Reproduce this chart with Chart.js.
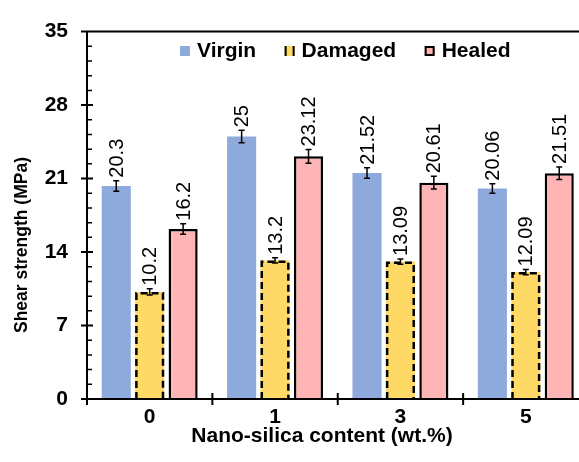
<!DOCTYPE html>
<html>
<head>
<meta charset="utf-8">
<script src="https://cdn.jsdelivr.net/npm/chart.js@4.4.1/dist/chart.umd.min.js"></script>
<style>
    html, body { margin: 0; padding: 0; background: #fff; overflow: hidden; }
    #wrap { width: 592px; height: 462px; }
</style>
</head>
<body>
<div id="wrap"><canvas id="shearChart"></canvas></div>
<script>
// data
const categories = ['0', '1', '3', '5'];
const virgin = [20.3, 25, 21.52, 20.06];
const damaged = [10.2, 13.2, 13.09, 12.09];
const healed = [16.2, 23.12, 20.61, 21.51];
const virginErr = [0.5, 0.6, 0.5, 0.45];
const damagedErr = [0.3, 0.25, 0.25, 0.25];
const healedErr = [0.5, 0.65, 0.6, 0.6];
const yMax = 35;
const yStep = 7;

const FONT = 'Liberation Sans, Arial, sans-serif';

/**
 * dashed outline on damaged bars, error bars, rotated value labels
 */
const barExtras = {
    id: 'barExtras',
    afterDatasetsDraw(chart) {
        const ctx = chart.ctx;
        const y = chart.scales.y;
        ctx.save();
        chart.data.datasets.forEach((ds, i) => {
            const meta = chart.getDatasetMeta(i);
            meta.data.forEach((bar, j) => {
                const half = bar.width / 2;
                // dashed border
                if (ds.dashed) {
                    const lw = 2.5;
                    ctx.setLineDash([7, 4]);
                    ctx.lineWidth = lw;
                    ctx.strokeStyle = '#000';
                    ctx.beginPath();
                    ctx.moveTo(bar.x - half + lw / 2, bar.base);
                    ctx.lineTo(bar.x - half + lw / 2, bar.y + lw / 2);
                    ctx.lineTo(bar.x + half - lw / 2, bar.y + lw / 2);
                    ctx.lineTo(bar.x + half - lw / 2, bar.base);
                    ctx.stroke();
                    ctx.setLineDash([]);
                }
                // error bar
                const v = ds.data[j];
                const e = ds.errors[j];
                const top = y.getPixelForValue(v + e);
                const bot = y.getPixelForValue(v - e);
                ctx.strokeStyle = '#000';
                ctx.lineWidth = 1.5;
                ctx.beginPath();
                ctx.moveTo(bar.x, top); ctx.lineTo(bar.x, bot);
                ctx.moveTo(bar.x - 3, top); ctx.lineTo(bar.x + 3, top);
                ctx.moveTo(bar.x - 3, bot); ctx.lineTo(bar.x + 3, bot);
                ctx.stroke();
                // value label
                ctx.save();
                ctx.translate(bar.x + 1, top - 3);
                ctx.rotate(-Math.PI / 2);
                ctx.fillStyle = '#000';
                ctx.font = '20px ' + FONT;
                ctx.textAlign = 'left';
                ctx.textBaseline = 'middle';
                ctx.fillText(String(v), 0, 0);
                ctx.restore();
            });
        });
        ctx.restore();
    }
};

/**
 * axes lines, ticks, titles and the legend inside the plot
 */
const frame = {
    id: 'frame',
    afterDraw(chart) {
        const ctx = chart.ctx;
        const a = chart.chartArea;
        const y = chart.scales.y;
        ctx.save();
        ctx.strokeStyle = '#000';
        ctx.lineWidth = 2;
        ctx.beginPath();
        // axes + top border
        ctx.moveTo(a.left, a.top); ctx.lineTo(a.left, a.bottom);
        ctx.moveTo(a.left - 6, a.bottom); ctx.lineTo(chart.width, a.bottom);
        ctx.moveTo(a.left, a.top); ctx.lineTo(chart.width, a.top);
        // major y ticks
        for (let v = 0; v <= yMax; v += yStep) {
            const py = y.getPixelForValue(v);
            ctx.moveTo(a.left - 6, py); ctx.lineTo(a.left + 6, py);
        }
        ctx.stroke();
        // minor y ticks
        ctx.lineWidth = 1.5;
        ctx.beginPath();
        for (let k = 1; k < yMax / yStep * 5; k++) {
            if (k % 5 === 0) continue;
            const py = y.getPixelForValue(k * yStep / 5);
            ctx.moveTo(a.left, py); ctx.lineTo(a.left + 5, py);
        }
        ctx.stroke();
        // x ticks at category boundaries
        ctx.lineWidth = 2;
        ctx.beginPath();
        const cw = (a.right - a.left) / categories.length;
        for (let k = 0; k <= categories.length; k++) {
            const px = a.left + k * cw;
            ctx.moveTo(px, a.bottom - 6); ctx.lineTo(px, a.bottom + 6);
        }
        ctx.stroke();

        // axis titles
        ctx.fillStyle = '#000';
        ctx.textAlign = 'center';
        ctx.textBaseline = 'middle';
        ctx.font = 'bold 21px ' + FONT;
        ctx.fillText('Nano-silica content (wt.%)', 322, 436);
        ctx.save();
        ctx.translate(22, 245);
        ctx.rotate(-Math.PI / 2);
        ctx.font = 'bold 17.5px ' + FONT;
        ctx.fillText('Shear strength (MPa)', 0, 0);
        ctx.restore();

        // legend
        ctx.font = 'bold 21px ' + FONT;
        ctx.textAlign = 'left';
        let lx = 180;
        const ly = 51;
        chart.data.datasets.forEach(ds => {
            ctx.fillStyle = ds.backgroundColor;
            ctx.fillRect(lx, ly - 5, 10, 10);
            if (ds.dashed) {
                ctx.fillStyle = '#000';
                ctx.fillRect(lx, ly - 5, 2, 10);
                ctx.fillRect(lx + 8, ly - 5, 2, 10);
            } else if (ds.borderWidth) {
                ctx.strokeStyle = '#000';
                ctx.lineWidth = 2;
                ctx.strokeRect(lx + 1, ly - 4, 8, 8);
            }
            ctx.fillStyle = '#000';
            ctx.fillText(ds.label, lx + 17, ly);
            lx += 17 + ctx.measureText(ds.label).width + 28.5;
        });
        ctx.restore();
    }
};

new Chart(document.getElementById('shearChart'), {
    type: 'bar',
    data: {
        labels: categories,
        datasets: [
            {
                label: 'Virgin',
                data: virgin,
                errors: virginErr,
                backgroundColor: '#8EA9DB',
                borderWidth: 0
            },
            {
                label: 'Damaged',
                data: damaged,
                errors: damagedErr,
                dashed: true,
                backgroundColor: '#FFD966',
                borderWidth: 0
            },
            {
                label: 'Healed',
                data: healed,
                errors: healedErr,
                backgroundColor: '#FFB5B5',
                borderColor: '#000',
                borderWidth: 2.5,
                borderSkipped: 'bottom'
            }
        ]
    },
    options: {
        responsive: true,
        maintainAspectRatio: false,
        animation: false,
        categoryPercentage: 0.8,
        barPercentage: 0.87,
        layout: { padding: { top: 24, right: 3.5, left: 0, bottom: 0 } },
        plugins: {
            legend: { display: false },
            tooltip: { enabled: false }
        },
        scales: {
            x: {
                grid: { display: false, drawTicks: false },
                border: { display: false },
                ticks: {
                    color: '#000',
                    padding: 6,
                    font: { family: FONT, size: 21, weight: 'bold' }
                },
                afterFit(scale) { scale.height = 63; }
            },
            y: {
                min: 0,
                max: yMax,
                grid: { display: false, drawTicks: false },
                border: { display: false },
                ticks: {
                    stepSize: yStep,
                    color: '#000',
                    padding: 19,
                    font: { family: FONT, size: 21, weight: 'bold' }
                },
                afterFit(scale) { scale.width = 87; }
            }
        }
    },
    plugins: [barExtras, frame]
});
</script>
</body>
</html>
